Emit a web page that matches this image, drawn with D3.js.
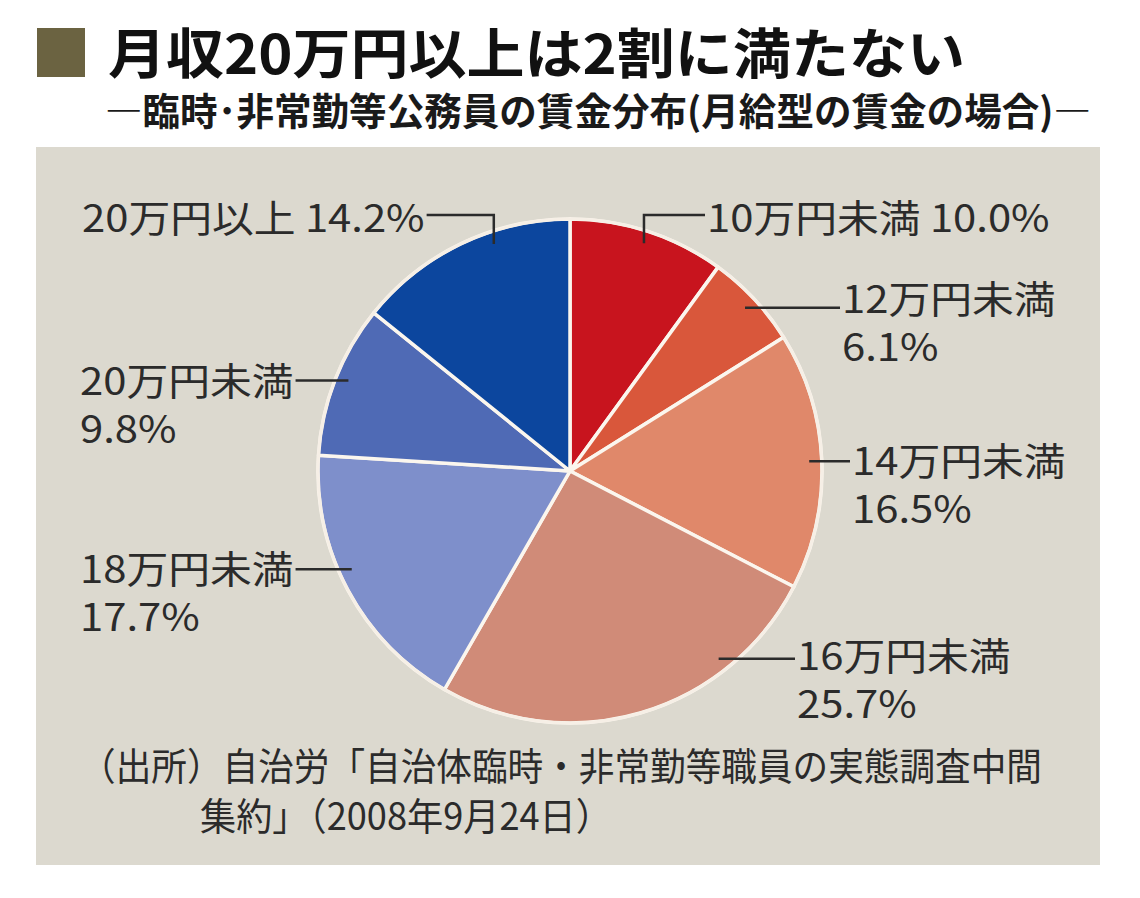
<!DOCTYPE html>
<html><head><meta charset="utf-8">
<script src="https://cdn.jsdelivr.net/npm/d3@7"></script>
<style>
html,body{margin:0;padding:0;background:#fff;}
text{font-family:"Noto Sans CJK JP","Noto Sans",sans-serif;}
</style></head>
<body><svg id="c" width="1140" height="898"></svg>
<script>
// ---- data ----
const categories = ["10万円未満","12万円未満","14万円未満","16万円未満","18万円未満","20万円未満","20万円以上"];
const values = [10.0, 6.1, 16.5, 25.7, 17.7, 9.8, 14.2];
const palette = ["#c8141e","#d9573b","#e0886a","#d08b78","#7e8fcb","#4f6ab5","#0c469e"];
const titleText = "月収20万円以上は2割に満たない";
const subtitleText = "―臨時･非常勤等公務員の賃金分布(月給型の賃金の場合)―";
const sourceLines = ["（出所）自治労「自治体臨時・非常勤等職員の実態調査中間","集約」（2008年9月24日）"];

// ---- label layout (positions only) ----
const labelLayout = [
  {x:707, y:232, oneLine:true, elbowY:215, angOff:0},
  {x:842, y:313, angOff:0},
  {x:852, y:475, angOff:0},
  {x:797, y:670, angOff:-22},
  {x:80,  y:583, angOff:4, left:true},
  {x:80,  y:395, angOff:1, left:true},
  {x:82,  y:232, oneLine:true, elbowY:215, left:true, angOff:7}
];

const svg = d3.select("#c");

// title
svg.append("rect").attr("x",37).attr("y",28).attr("width",48).attr("height",49).attr("fill","#6b6341");
svg.append("text").attr("x",108).attr("y",74).attr("font-size",54).attr("font-weight",700)
  .attr("fill","#111").attr("textLength",857).attr("lengthAdjust","spacingAndGlyphs").text(titleText);
svg.append("text").attr("x",105).attr("y",125).attr("font-size",38).attr("font-weight",700)
  .attr("fill","#1a1a1a").attr("textLength",986).attr("lengthAdjust","spacingAndGlyphs").text(subtitleText);

// panel
svg.append("rect").attr("x",36).attr("y",147).attr("width",1064).attr("height",718).attr("fill","#dcd9cf");

// pie
const cx = 570, cy = 471, R = 252;
const pie = d3.pie().sort(null).value(d=>d)(values);
const arc = d3.arc().innerRadius(0).outerRadius(R);
const g = svg.append("g").attr("transform",`translate(${cx},${cy})`);
g.selectAll("path.slice").data(pie).join("path").attr("class","slice")
  .attr("d",arc).attr("fill",(d,i)=>palette[i])
  .attr("stroke","#fbf6ee").attr("stroke-width",3.5).attr("stroke-linejoin","round");
g.append("circle").attr("r",R).attr("fill","none").attr("stroke","#f6efe6").attr("stroke-width",3);

// labels
const fs = 38, lh = 48, txtColor = "#2b2b2b";
pie.forEach((d,i)=>{
  const L = labelLayout[i];
  const a = (d.startAngle + d.endAngle)/2 + L.angOff*Math.PI/180;
  const ax = cx + Math.sin(a)*R*0.95, ay = cy - Math.cos(a)*R*0.95;
  const pct = values[i].toFixed(1) + "%";
  const t = svg.append("text").attr("font-size",fs).attr("fill",txtColor)
     .attr("transform",`translate(${L.x},${L.y}) scale(1.1,1)`);
  if (L.oneLine) {
    t.text(categories[i] + " " + pct);
  } else {
    t.append("tspan").attr("x",0).attr("y",0).text(categories[i]);
    t.append("tspan").attr("x",0).attr("y",lh).text(pct);
  }
  const w = (L.oneLine ? t.node().getBBox().width : t.select("tspan").node().getComputedTextLength())*1.1;
  const lineEndX = L.left ? L.x + w + 2 : L.x - 2;
  const pts = (L.elbowY !== undefined)
    ? [[ax,ay],[ax,L.elbowY],[lineEndX,L.elbowY]]
    : [[ax,ay],[lineEndX,ay]];
  svg.append("path").attr("d",d3.line()(pts)).attr("fill","none")
    .attr("stroke","#2b2b2b").attr("stroke-width",2.5);
});

// source
svg.append("text").attr("x",80).attr("y",780).attr("font-size",38).attr("fill",txtColor)
  .attr("textLength",962).attr("lengthAdjust","spacingAndGlyphs").text(sourceLines[0]);
svg.append("text").attr("x",200).attr("y",830).attr("font-size",38).attr("fill",txtColor)
  .attr("textLength",412).attr("lengthAdjust","spacingAndGlyphs").text(sourceLines[1]);
</script></body></html>
